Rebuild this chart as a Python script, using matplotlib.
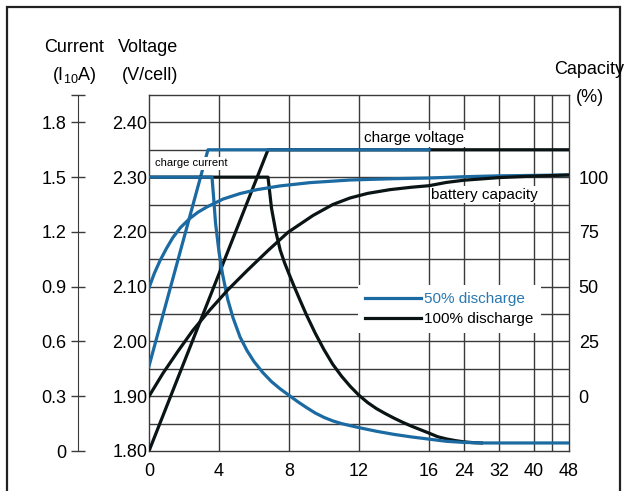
import numpy as np
import matplotlib.pyplot as plt
from matplotlib.patches import Rectangle

plt.rcParams['font.family'] = ['Liberation Sans', 'DejaVu Sans']

W, H = 626, 491

# axis ticks
hour_ticks = [0, 4, 8, 12, 16, 24, 32, 40, 48]
hour_grid = [4, 8, 12, 16, 24, 32, 40, 44]
volt_ticks = [1.80, 1.90, 2.00, 2.10, 2.20, 2.30, 2.40]
volt_labels = ['1.80', '1.90', '2.00', '2.10', '2.20', '2.30', '2.40']
volt_grid = [1.85, 1.90, 1.95, 2.00, 2.05, 2.10, 2.15, 2.20, 2.25, 2.30, 2.35, 2.40]
cur_ticks = [0, 0.3, 0.6, 0.9, 1.2, 1.5, 1.8, 1.95]
cur_labels = ['0', '0.3', '0.6', '0.9', '1.2', '1.5', '1.8', '']
cap_ticks = [0, 25, 50, 75, 100]

# 50% discharge
t_v50 = [0, 3.37, 16]
v50 = [1.955, 2.35, 2.35]
t_i50 = [0, 3.6, 3.7, 3.8, 4.0, 4.2, 4.5, 4.8, 5.2, 5.6, 6.0, 6.5, 7.0, 7.5, 8, 8.5, 9, 9.5, 10,
         10.5, 11, 12, 13, 14, 15, 16, 20, 24, 28, 48]
i50 = [1.5, 1.5, 1.38, 1.25, 1.09, 0.97, 0.83, 0.73, 0.625, 0.55, 0.49, 0.43, 0.38, 0.34, 0.305,
       0.27, 0.238, 0.208, 0.184, 0.165, 0.15, 0.128, 0.108, 0.091, 0.077, 0.065, 0.053, 0.047,
       0.044, 0.044]
t_c50 = [0, 0.3, 0.63, 1.0, 1.37, 1.8, 2.34, 2.8, 3.31, 4.23, 5.2, 6.17, 7.49, 9.2, 11.5, 14, 16,
         24, 32, 48]
c50 = [49.5, 56, 61.9, 67.5, 72.5, 77, 81.2, 84, 86.4, 90.0, 92.5, 94.3, 96, 97.5, 98.7, 99.3,
       99.6, 100.2, 100.6, 101]

# 100% discharge
t_v100 = [0, 6.8, 48]
v100 = [1.80, 2.35, 2.35]
t_i100 = [0, 6.8, 7.0, 7.25, 7.5, 7.75, 8.0, 8.3, 8.63, 9.0, 9.5, 10.0, 10.5, 11.0, 11.5, 12,
          12.5, 13, 13.5, 14, 14.5, 15, 15.5, 16, 18, 20, 22, 24, 26, 28]
i100 = [1.5, 1.5, 1.33, 1.2, 1.1, 1.03, 0.97, 0.9, 0.826, 0.745, 0.645, 0.555, 0.475, 0.41,
        0.354, 0.305, 0.265, 0.232, 0.205, 0.18, 0.157, 0.136, 0.117, 0.098, 0.078, 0.066,
        0.057, 0.05, 0.046, 0.044]
t_c100 = [0, 0.8, 1.66, 2.5, 3.49, 4.5, 5.6, 6.8, 7.94, 9.37, 10.5, 11.49, 12.5, 13.77, 15, 16,
          20, 24, 32, 40, 48]
c100 = [0, 10.5, 20.6, 30, 39.5, 48.5, 57.3, 66.5, 74.8, 82.5, 87.5, 90.5, 92.6, 94.3, 95.4,
        96.1, 97.6, 98.6, 99.8, 100.5, 101]

blue = '#1b6aa2'
black = '#0a1414'
grid_c = '#3a3a3a'
fs = 13


def fwd(h):
    h = np.asarray(h, dtype=float)
    return np.where(h <= 16, h, 16 + (h - 16) / 4.0)


def inv(t):
    t = np.asarray(t, dtype=float)
    return np.where(t <= 16, t, 16 + (t - 16) * 4.0)


fig = plt.figure(figsize=(W / 100, H / 100), dpi=100)
ax = fig.add_axes([149 / W, 1 - 451 / H, 420 / W, 356 / H])
ax.set_xscale('function', functions=(fwd, inv))

# current axis (left, outer)
ax_i = ax.twinx()
# capacity axis (right)
ax_c = ax.twinx()

ax.set_xlim(0, 48)
ax.set_ylim(1.80, 2.45)
ax_i.set_ylim(0, 1.95)
ax_c.set_ylim(-25, 137.5)

for v in volt_grid:
    ax.axhline(v, color=grid_c, lw=1.0, zorder=1)
for h in hour_grid:
    ax.axvline(h, color=grid_c, lw=1.0, zorder=1)

ax.set_yticks(volt_ticks)
ax.set_yticklabels(volt_labels)
ax.tick_params(axis='x', length=0, pad=9, labelsize=fs)
ax.tick_params(axis='y', length=0, pad=1, labelsize=fs)
for s in ax.spines.values():
    s.set_color(grid_c)
    s.set_linewidth(1.0)

ax_i.spines['left'].set_visible(True)
ax_i.spines['left'].set_position(('outward', 51))
ax_i.spines['left'].set_color(grid_c)
for s in ['right', 'top', 'bottom']:
    ax_i.spines[s].set_visible(False)
ax_i.yaxis.set_ticks_position('left')
ax_i.set_yticks(cur_ticks)
ax_i.set_yticklabels(cur_labels)
ax_i.tick_params(axis='y', direction='inout', length=10.5, width=1.0, color=grid_c, pad=3,
                 labelsize=fs)

for s in ax_c.spines.values():
    s.set_visible(False)
ax_c.set_yticks(cap_ticks)
ax_c.set_yticklabels([str(c) for c in cap_ticks])
ax_c.tick_params(axis='y', length=0, pad=7, labelsize=fs)

lw = 2.3
# 100% discharge curves
ax.plot(t_v100, v100, color=black, lw=lw, zorder=3)
ax_i.plot(t_i100, i100, color=black, lw=lw, zorder=3)
# 50% discharge curves
ax.plot(t_v50, v50, color=blue, lw=lw, zorder=4)
ax_i.plot(t_i50, i50, color=blue, lw=lw, zorder=4)
ax_c.plot(t_c50, c50, color=blue, lw=lw, zorder=4)
ax_c.plot(t_c100, c100, color=black, lw=lw, zorder=5)

box = dict(facecolor='white', edgecolor='none', pad=1)
ax.text(12.3, 2.371, 'charge voltage', fontsize=11, va='center', ha='left', bbox=box, zorder=6)
ax.text(0.34, 2.325, 'charge current', fontsize=8, va='center', ha='left', bbox=box, zorder=6)
ax.text(16.5, 2.268, 'battery capacity', fontsize=11, va='center', ha='left', bbox=box, zorder=6)

h50, = ax.plot([], [], color=blue, lw=lw, label='50% discharge')
h100, = ax.plot([], [], color=black, lw=lw, label='100% discharge')
leg = ax.legend(handles=[h50, h100], loc='upper left', bbox_to_anchor=(0.4976, 0.466),
                borderaxespad=0, fontsize=11, handlelength=3.7, handletextpad=0.2,
                labelspacing=0.4, borderpad=0.45, frameon=True, framealpha=1,
                facecolor='white', edgecolor='none', fancybox=False)
leg.set_zorder(7)
leg.get_texts()[0].set_color('#2a78b0')

# x ticks after the twins share the scale
ax.set_xticks(hour_ticks)
ax.set_xticklabels([str(h) for h in hour_ticks])


def px(x, y):
    return x / W, 1 - y / H


fig.text(*px(74, 48), 'Current', fontsize=fs, ha='center', va='center')
fig.text(*px(74, 76), r'(I$_{\mathregular{10}}$A)', fontsize=fs, ha='center', va='center')
fig.text(*px(148, 48), 'Voltage', fontsize=fs, ha='center', va='center')
fig.text(*px(150, 76), '(V/cell)', fontsize=fs, ha='center', va='center')
fig.text(*px(624, 70), 'Capacity', fontsize=fs, ha='right', va='center')
fig.text(*px(590, 97), '(%)', fontsize=fs, ha='center', va='center')

fig.add_artist(Rectangle((7 / W, -0.02), 613 / W, 1 - 7 / H + 0.02, transform=fig.transFigure,
                         fill=False, lw=1.6, ec='#222222'))

fig.savefig('out.png', dpi=100)
